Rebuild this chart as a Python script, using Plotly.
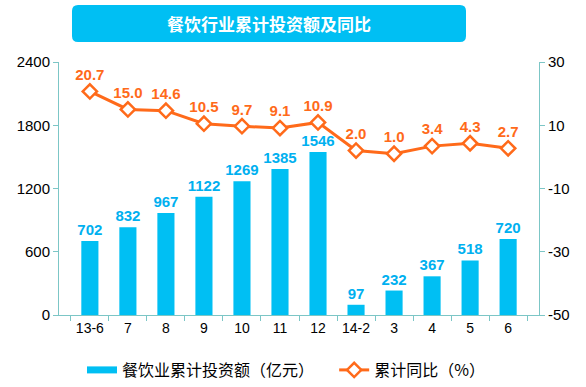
import plotly.graph_objects as go

categories = ["13-6", "7", "8", "9", "10", "11", "12", "14-2", "3", "4", "5", "6"]
investment = [702, 832, 967, 1122, 1269, 1385, 1546, 97, 232, 367, 518, 720]
yoy = [20.7, 15.0, 14.6, 10.5, 9.7, 9.1, 10.9, 2.0, 1.0, 3.4, 4.3, 2.7]
yoy_text = ["20.7", "15.0", "14.6", "10.5", "9.7", "9.1", "10.9", "2.0", "1.0", "3.4", "4.3", "2.7"]
left_ticks = [0, 600, 1200, 1800, 2400]
right_ticks = [-50, -30, -10, 10, 30]
right_tick_text = ["-50", "-30", "-10", "10", "30"]

W, H = 586, 387
ML, MR, MT, MB = 59, 47, 62, 72
PW, PH = W - ML - MR, H - MT - MB

BAR_C = "#00BFF3"
LINE_C = "#FF6A1A"
AXIS_C = "#7CC6C6"
BAR_NAME = "餐饮业累计投资额（亿元）"

fig = go.Figure()
fig.add_trace(go.Bar(
    x=categories, y=investment, name=BAR_NAME, showlegend=False,
    marker=dict(color=BAR_C, line=dict(width=0)), width=0.45,
    text=[f"<b>{v}</b>" for v in investment], textposition="outside",
    textfont=dict(family="Liberation Sans, Arial", size=15, color="#00B0F0"),
    constraintext="none", cliponaxis=False,
))
# legend entry for the bars (wide flat swatch, as in the reference)
fig.add_trace(go.Scatter(
    x=[None], y=[None], name=BAR_NAME + "\u3000\u00a0\u00a0", mode="lines",
    line=dict(color=BAR_C, width=7), showlegend=True,
))
fig.add_trace(go.Scatter(
    x=categories, y=yoy, name="累计同比（%）", yaxis="y2",
    mode="lines+markers+text",
    line=dict(color=LINE_C, width=3),
    marker=dict(symbol="diamond", size=11, color="white", line=dict(color=LINE_C, width=2.5)),
    text=[f"<b>{t}</b>" for t in yoy_text], textposition="top center",
    textfont=dict(family="Liberation Sans, Arial", size=15, color=LINE_C),
    cliponaxis=False,
))

def px2paper(px, py):
    return (px - ML) / PW, (H - MB - py) / PH

x0, x1, y0, y1, r = 72, 466, 5, 42, 6
def P(px, py):
    a, b = px2paper(px, py)
    return f"{a:.5f},{b:.5f}"
path = (f"M {P(x0+r, y0)} L {P(x1-r, y0)} Q {P(x1, y0)} {P(x1, y0+r)} "
        f"L {P(x1, y1-r)} Q {P(x1, y1)} {P(x1-r, y1)} "
        f"L {P(x0+r, y1)} Q {P(x0, y1)} {P(x0, y1-r)} "
        f"L {P(x0, y0+r)} Q {P(x0, y0)} {P(x0+r, y0)} Z")
fig.add_shape(type="path", path=path, xref="paper", yref="paper",
              fillcolor=BAR_C, line=dict(width=0), layer="above")
tx, ty = px2paper((x0 + x1) / 2, (y0 + y1) / 2)
fig.add_annotation(text="<b>餐饮行业累计投资额及同比</b>", x=tx, y=ty, xref="paper", yref="paper",
                   showarrow=False, xanchor="center", yanchor="middle",
                   font=dict(family="Noto Sans CJK SC", size=17, color="white"))

lx, ly = px2paper(82, 370)
fig.update_layout(
    width=W, height=H, margin=dict(l=ML, r=MR, t=MT, b=MB, autoexpand=False),
    paper_bgcolor="white", plot_bgcolor="white",
    font=dict(family="Liberation Sans, Arial", size=14, color="black"),
    xaxis=dict(showline=True, linecolor=AXIS_C, linewidth=1, ticks="outside",
               tickcolor=AXIS_C, ticklen=5, showgrid=False, automargin=False,
               tickfont=dict(size=14), tickson="boundaries"),
    yaxis=dict(range=[0, 2400], tickvals=left_ticks, showline=True, linecolor=AXIS_C,
               ticks="outside", tickcolor=AXIS_C, ticklen=5, showgrid=False, zeroline=False,
               automargin=False, tickfont=dict(size=15)),
    yaxis2=dict(range=[-50, 30], tickvals=right_ticks, ticktext=right_tick_text,
                overlaying="y", side="right", automargin=False,
                showline=True, linecolor=AXIS_C, ticks="outside", tickcolor=AXIS_C, ticklen=5,
                showgrid=False, zeroline=False, tickfont=dict(size=15)),
    legend=dict(orientation="h", x=lx, xanchor="left", y=ly, yanchor="middle",
                font=dict(family="Noto Sans CJK SC", size=16),
                traceorder="normal"),
    showlegend=True,
)
fig.write_html("out.html", config={"displayModeBar": False},
               post_script="document.body.style.margin='0px';document.body.style.overflow='hidden';")
